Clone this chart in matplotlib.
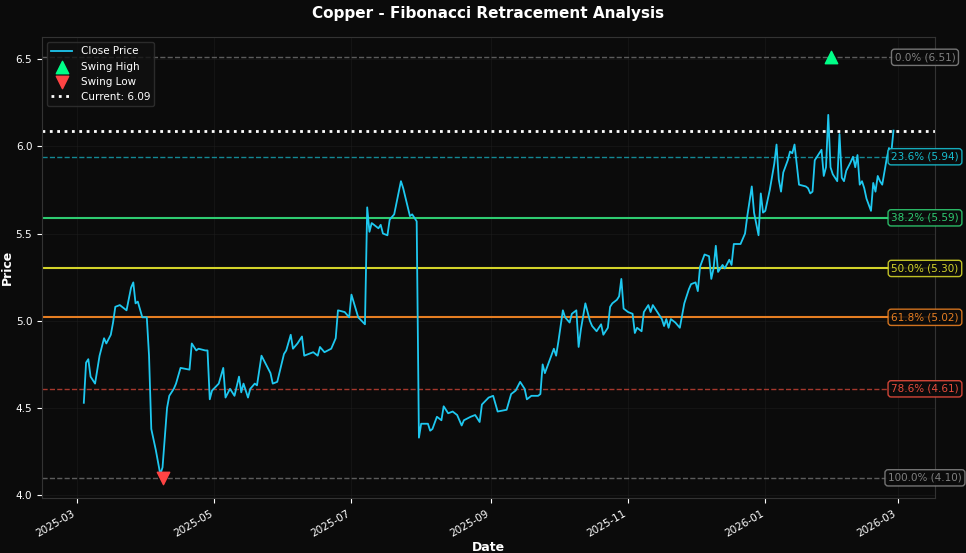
import matplotlib
matplotlib.use("Agg")
import matplotlib.pyplot as plt
import matplotlib.dates as mdates
import numpy as np
import pandas as pd

start = pd.Timestamp("2025-03-01")
day_offsets = [3,4,5,6,8,10,12,13,15,16,17,19,22,24,25,26,27,29,31,32,33,35,37,38,40,41,43,44,46,50,51,53,54,57,58,59,60,63,65,66,68,70,72,73,74,76,77,79,80,82,84,86,87,89,92,93,95,96,98,100,101,103,105,107,108,110,113,115,116,119,121,122,125,128,129,130,131,134,135,136,138,139,141,144,145,148,149,151,152,153,156,157,158,160,162,163,165,167,169,171,172,175,177,179,180,183,185,187,191,193,195,197,199,200,202,205,206,207,208,210,212,213,214,216,217,219,220,222,223,224,226,228,229,231,233,234,236,237,238,240,241,242,243,245,247,248,249,251,252,254,255,256,258,260,261,262,263,264,266,268,270,272,273,275,276,277,279,281,282,283,284,285,287,288,290,291,292,295,297,298,300,301,303,304,305,306,308,310,311,312,313,314,316,317,318,319,321,324,325,326,327,328,331,332,333,334,335,336,338,339,340,341,342,344,345,346,347,348,349,350,351,353,354,355,356,357,358,360,361,362,363]
close = [4.53,4.76,4.78,4.68,4.64,4.80,4.90,4.87,4.92,4.99,5.08,5.09,5.06,5.19,5.22,5.10,5.11,5.02,5.02,4.80,4.38,4.26,4.12,4.16,4.50,4.57,4.61,4.64,4.73,4.72,4.87,4.83,4.84,4.83,4.83,4.55,4.60,4.64,4.73,4.56,4.61,4.57,4.68,4.59,4.64,4.56,4.61,4.64,4.63,4.80,4.75,4.70,4.64,4.65,4.81,4.83,4.92,4.84,4.87,4.91,4.80,4.81,4.82,4.80,4.85,4.82,4.84,4.90,5.06,5.05,5.02,5.15,5.02,4.98,5.65,5.51,5.56,5.53,5.55,5.50,5.49,5.58,5.61,5.80,5.76,5.60,5.61,5.57,4.33,4.41,4.41,4.37,4.38,4.45,4.43,4.51,4.47,4.48,4.46,4.40,4.43,4.45,4.46,4.42,4.52,4.56,4.57,4.48,4.49,4.58,4.60,4.65,4.61,4.55,4.57,4.57,4.58,4.75,4.70,4.77,4.84,4.80,4.88,5.06,5.02,4.99,5.04,5.06,4.85,4.95,5.10,5.00,4.97,4.94,4.98,4.92,4.96,5.08,5.10,5.12,5.14,5.24,5.07,5.05,5.04,4.93,4.96,4.94,5.05,5.09,5.05,5.09,5.05,5.01,4.97,5.01,4.96,5.01,4.99,4.96,5.10,5.18,5.21,5.22,5.17,5.31,5.38,5.37,5.24,5.30,5.43,5.28,5.32,5.30,5.35,5.32,5.44,5.44,5.50,5.60,5.77,5.62,5.49,5.73,5.62,5.63,5.75,5.90,6.01,5.81,5.74,5.85,5.92,5.97,5.96,6.01,5.78,5.77,5.76,5.73,5.74,5.92,5.98,5.83,5.88,6.18,5.88,5.84,5.80,6.07,5.82,5.80,5.86,5.91,5.94,5.88,5.95,5.78,5.80,5.76,5.70,5.63,5.79,5.74,5.83,5.80,5.78,5.93,5.99,5.96,6.09]
dates = [start + pd.Timedelta(days=d) for d in day_offsets]

swing_high_date, swing_high = pd.Timestamp("2026-01-30"), 6.51
swing_low_date, swing_low = pd.Timestamp("2025-04-08"), 4.10
current = 6.09
fib_pcts = [0.0, 23.6, 38.2, 50.0, 61.8, 78.6, 100.0]
fib_vals = [6.51, 5.94, 5.59, 5.30, 5.02, 4.61, 4.10]
fib_colors = ["#808080", "#17becf", "#2ecc71", "#d4d42a", "#e67e22", "#e74c3c", "#808080"]
fib_styles = ["--", "--", "-", "-", "-", "--", "--"]
fib_widths = [1.0, 1.0, 1.5, 1.5, 1.5, 1.0, 1.0]
fib_alpha = [0.7, 0.7, 1.0, 1.0, 1.0, 0.7, 0.7]

bg = "#0b0b0b"
fig, ax = plt.subplots(figsize=(9.66, 5.53), dpi=100)
fig.patch.set_facecolor(bg)
ax.set_facecolor("#0b0b0b")
fig.subplots_adjust(left=0.0435, right=0.968, top=0.933, bottom=0.099)

for p, v, c, ls, lw, a in zip(fib_pcts, fib_vals, fib_colors, fib_styles, fib_widths, fib_alpha):
    ax.axhline(v, color=c, ls=ls, lw=lw, alpha=a, zorder=2)
    ax.text(pd.Timestamp("2026-03-13"), v, f"{p:.1f}% ({v:.2f})", color=c, fontsize=7.5,
            ha="center", va="center", zorder=5,
            bbox=dict(boxstyle="round,pad=0.3", fc=bg, ec=c, lw=1, alpha=0.9))

ax.plot(dates, close, color="#1ec8f0", lw=1.3, label="Close Price", zorder=3)
ax.scatter([swing_high_date], [swing_high], marker="^", s=80, color="#00ff88", label="Swing High", zorder=4)
ax.scatter([swing_low_date], [swing_low], marker="v", s=80, color="#ff4444", label="Swing Low", zorder=4)
ax.axhline(current, color="white", ls=":", lw=2, label=f"Current: {current:.2f}", zorder=2)

ax.set_xlim(pd.Timestamp("2025-02-13 10:00"), pd.Timestamp("2026-03-17 12:00"))
ax.set_ylim(3.983, 6.626)
ax.xaxis.set_major_locator(mdates.MonthLocator(bymonth=[1,3,5,7,9,11]))
ax.xaxis.set_major_formatter(mdates.DateFormatter("%Y-%m"))
plt.setp(ax.get_xticklabels(), rotation=30, ha="right")
ax.tick_params(colors="white", labelsize=7.5)
for s in ax.spines.values():
    s.set_color("#333333")
ax.grid(True, color="#222222", lw=0.5, alpha=0.6)
ax.set_xlabel("Date", color="white", fontsize=9, fontweight="bold", labelpad=2)
ax.set_ylabel("Price", color="white", fontsize=9, fontweight="bold")
ax.yaxis.set_label_coords(-0.031, 0.5)
ax.set_title("Copper - Fibonacci Retracement Analysis", color="white", fontsize=11, fontweight="bold", pad=14)
leg = ax.legend(loc="upper left", fontsize=7.5, facecolor="#111111", edgecolor="#333333", labelcolor="white")
fig.savefig("out.png", dpi=100, facecolor=bg)
